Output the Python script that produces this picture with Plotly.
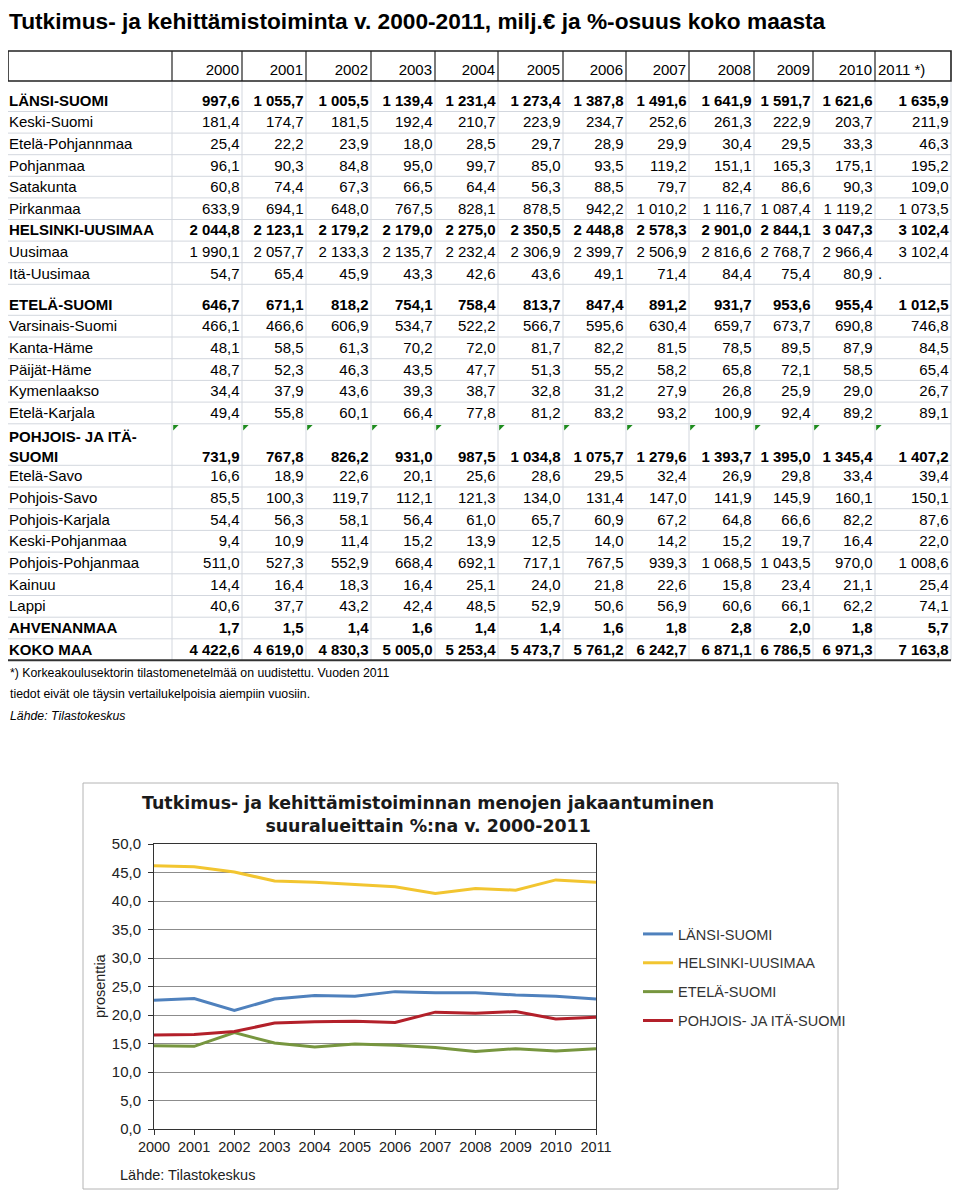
import plotly.graph_objects as go

# ---------------- DATA ----------------
years = [2000, 2001, 2002, 2003, 2004, 2005, 2006, 2007, 2008, 2009, 2010, 2011]
header_labels = ["2000", "2001", "2002", "2003", "2004", "2005", "2006",
                 "2007", "2008", "2009", "2010", "2011 *)"]

region_names = [
    "LÄNSI-SUOMI", "Keski-Suomi", "Etelä-Pohjannmaa", "Pohjanmaa", "Satakunta",
    "Pirkanmaa", "HELSINKI-UUSIMAA", "Uusimaa", "Itä-Uusimaa", "ETELÄ-SUOMI",
    "Varsinais-Suomi", "Kanta-Häme", "Päijät-Häme", "Kymenlaakso", "Etelä-Karjala",
    "POHJOIS- JA ITÄ-<br>SUOMI", "Etelä-Savo", "Pohjois-Savo", "Pohjois-Karjala",
    "Keski-Pohjanmaa", "Pohjois-Pohjanmaa", "Kainuu", "Lappi", "AHVENANMAA", "KOKO MAA",
]
bold_regions = ["LÄNSI-SUOMI", "HELSINKI-UUSIMAA", "ETELÄ-SUOMI",
                "POHJOIS- JA ITÄ-<br>SUOMI", "AHVENANMAA", "KOKO MAA"]

lansi_suomi = [997.6, 1055.7, 1005.5, 1139.4, 1231.4, 1273.4, 1387.8, 1491.6, 1641.9, 1591.7, 1621.6, 1635.9]
keski_suomi = [181.4, 174.7, 181.5, 192.4, 210.7, 223.9, 234.7, 252.6, 261.3, 222.9, 203.7, 211.9]
etela_pohjanmaa = [25.4, 22.2, 23.9, 18.0, 28.5, 29.7, 28.9, 29.9, 30.4, 29.5, 33.3, 46.3]
pohjanmaa = [96.1, 90.3, 84.8, 95.0, 99.7, 85.0, 93.5, 119.2, 151.1, 165.3, 175.1, 195.2]
satakunta = [60.8, 74.4, 67.3, 66.5, 64.4, 56.3, 88.5, 79.7, 82.4, 86.6, 90.3, 109.0]
pirkanmaa = [633.9, 694.1, 648.0, 767.5, 828.1, 878.5, 942.2, 1010.2, 1116.7, 1087.4, 1119.2, 1073.5]
helsinki_uusimaa = [2044.8, 2123.1, 2179.2, 2179.0, 2275.0, 2350.5, 2448.8, 2578.3, 2901.0, 2844.1, 3047.3, 3102.4]
uusimaa = [1990.1, 2057.7, 2133.3, 2135.7, 2232.4, 2306.9, 2399.7, 2506.9, 2816.6, 2768.7, 2966.4, 3102.4]
ita_uusimaa = [54.7, 65.4, 45.9, 43.3, 42.6, 43.6, 49.1, 71.4, 84.4, 75.4, 80.9, None]
etela_suomi = [646.7, 671.1, 818.2, 754.1, 758.4, 813.7, 847.4, 891.2, 931.7, 953.6, 955.4, 1012.5]
varsinais_suomi = [466.1, 466.6, 606.9, 534.7, 522.2, 566.7, 595.6, 630.4, 659.7, 673.7, 690.8, 746.8]
kanta_hame = [48.1, 58.5, 61.3, 70.2, 72.0, 81.7, 82.2, 81.5, 78.5, 89.5, 87.9, 84.5]
paijat_hame = [48.7, 52.3, 46.3, 43.5, 47.7, 51.3, 55.2, 58.2, 65.8, 72.1, 58.5, 65.4]
kymenlaakso = [34.4, 37.9, 43.6, 39.3, 38.7, 32.8, 31.2, 27.9, 26.8, 25.9, 29.0, 26.7]
etela_karjala = [49.4, 55.8, 60.1, 66.4, 77.8, 81.2, 83.2, 93.2, 100.9, 92.4, 89.2, 89.1]
pohjois_ja_ita_suomi = [731.9, 767.8, 826.2, 931.0, 987.5, 1034.8, 1075.7, 1279.6, 1393.7, 1395.0, 1345.4, 1407.2]
etela_savo = [16.6, 18.9, 22.6, 20.1, 25.6, 28.6, 29.5, 32.4, 26.9, 29.8, 33.4, 39.4]
pohjois_savo = [85.5, 100.3, 119.7, 112.1, 121.3, 134.0, 131.4, 147.0, 141.9, 145.9, 160.1, 150.1]
pohjois_karjala = [54.4, 56.3, 58.1, 56.4, 61.0, 65.7, 60.9, 67.2, 64.8, 66.6, 82.2, 87.6]
keski_pohjanmaa = [9.4, 10.9, 11.4, 15.2, 13.9, 12.5, 14.0, 14.2, 15.2, 19.7, 16.4, 22.0]
pohjois_pohjanmaa = [511.0, 527.3, 552.9, 668.4, 692.1, 717.1, 767.5, 939.3, 1068.5, 1043.5, 970.0, 1008.6]
kainuu = [14.4, 16.4, 18.3, 16.4, 25.1, 24.0, 21.8, 22.6, 15.8, 23.4, 21.1, 25.4]
lappi = [40.6, 37.7, 43.2, 42.4, 48.5, 52.9, 50.6, 56.9, 60.6, 66.1, 62.2, 74.1]
ahvenanmaa = [1.7, 1.5, 1.4, 1.6, 1.4, 1.4, 1.6, 1.8, 2.8, 2.0, 1.8, 5.7]
koko_maa = [4422.6, 4619.0, 4830.3, 5005.0, 5253.4, 5473.7, 5761.2, 6242.7, 6871.1, 6786.5, 6971.3, 7163.8]

table_rows = [lansi_suomi, keski_suomi, etela_pohjanmaa, pohjanmaa, satakunta, pirkanmaa,
              helsinki_uusimaa, uusimaa, ita_uusimaa, etela_suomi, varsinais_suomi, kanta_hame,
              paijat_hame, kymenlaakso, etela_karjala, pohjois_ja_ita_suomi, etela_savo,
              pohjois_savo, pohjois_karjala, keski_pohjanmaa, pohjois_pohjanmaa, kainuu, lappi,
              ahvenanmaa, koko_maa]

# chart: % share of whole country
chart_series = ["LÄNSI-SUOMI", "HELSINKI-UUSIMAA", "ETELÄ-SUOMI", "POHJOIS- JA ITÄ-SUOMI"]
share_lansi = [22.6, 22.9, 20.8, 22.8, 23.4, 23.3, 24.1, 23.9, 23.9, 23.5, 23.3, 22.8]
share_helsinki = [46.2, 46.0, 45.1, 43.5, 43.3, 42.9, 42.5, 41.3, 42.2, 41.9, 43.7, 43.3]
share_etela = [14.6, 14.5, 16.9, 15.1, 14.4, 14.9, 14.7, 14.3, 13.6, 14.1, 13.7, 14.1]
share_pohjois = [16.5, 16.6, 17.1, 18.6, 18.8, 18.9, 18.7, 20.5, 20.3, 20.6, 19.3, 19.6]
chart_values = [share_lansi, share_helsinki, share_etela, share_pohjois]

# ---------------- STYLE / LAYOUT ----------------
W, H = 960, 1193
OX, OY = 8, 8          # page (body) margin offset: layout works in page pixels
FONT = "Liberation Sans, Arial, sans-serif"
TFS = 15  # table font size
line_colors = ["#4f81bd", "#f2c530", "#77963f", "#b3202a"]

col_edges = [7, 172, 242, 306, 371, 435, 498, 563, 626, 689, 754, 813, 875, 951]
header_top, header_bot = 51, 81
row_heights = ([30.5] + [21.6] * 8 + [31] + [21.7] * 5 + [41.5] + [21.7] * 7 + [21.6, 21.5])
row_edges = [header_bot]
for h in row_heights:
    row_edges.append(row_edges[-1] + h)


def fmt(v):
    if v is None:
        return "."
    s = f"{v:,.1f}"
    return s.replace(",", " ").replace(".", ",")


def px(x):
    return (x - OX) / W


def py(y):
    return 1 - (y - OY) / H


fig = go.Figure()

# ---- table text ----
pj = region_names.index("POHJOIS- JA ITÄ-<br>SUOMI")
text_y = [row_edges[i + 1] - (7.5 if i == pj else 9.5) for i in range(len(region_names))]
label_y = [ty - (0.65 * TFS if "<br>" in name else 0) for ty, name in zip(text_y, region_names)]
label_text = [f"<b>{n}</b>" if n in bold_regions else n for n in region_names]

fig.add_trace(go.Scatter(
    x=[col_edges[0] + 2] * len(region_names), y=label_y, text=label_text,
    mode="text", textposition="middle right",
    textfont=dict(family=FONT, size=TFS, color="#000"),
    xaxis="x2", yaxis="y2", showlegend=False, hoverinfo="skip"))

for j in range(len(years)):
    xs, tps, txt = [], [], []
    for i, row in enumerate(table_rows):
        v = row[j]
        s = fmt(v)
        if region_names[i] in bold_regions:
            s = f"<b>{s}</b>"
        txt.append(s)
        if v is None:
            xs.append(col_edges[j + 1] + 3)
            tps.append("middle right")
        else:
            xs.append(col_edges[j + 2] - 2.5)
            tps.append("middle left")
    fig.add_trace(go.Scatter(
        x=xs, y=text_y, text=txt, mode="text", textposition=tps,
        textfont=dict(family=FONT, size=TFS, color="#000"),
        xaxis="x2", yaxis="y2", showlegend=False, hoverinfo="skip"))

# header
hx = [col_edges[j + 2] - 3 if j < len(years) - 1 else col_edges[j + 1] + 3 for j in range(len(years))]
htp = ["middle left" if j < len(years) - 1 else "middle right" for j in range(len(years))]
fig.add_trace(go.Scatter(
    x=hx, y=[header_bot - 9.5] * len(years), text=header_labels,
    mode="text", textposition=htp,
    textfont=dict(family=FONT, size=TFS, color="#000"),
    xaxis="x2", yaxis="y2", showlegend=False, hoverinfo="skip"))

# green error-indicator triangles in the two-line row
fig.add_trace(go.Scatter(
    x=[col_edges[j + 1] + 3 for j in range(len(years))],
    y=[row_edges[pj] + 3] * len(years),
    mode="markers", marker=dict(symbol="triangle-nw", size=6, color="#1e8c1e", line=dict(width=0)),
    xaxis="x2", yaxis="y2", showlegend=False, hoverinfo="skip"))

shapes = []
grid_c = "#d3d7de"
for x in col_edges:
    shapes.append(dict(type="line", xref="x2", yref="y2", x0=x, x1=x, y0=header_bot, y1=row_edges[-1],
                       line=dict(color=grid_c, width=1), layer="below"))
for y in row_edges[1:-1]:
    shapes.append(dict(type="line", xref="x2", yref="y2", x0=col_edges[0], x1=col_edges[-1], y0=y, y1=y,
                       line=dict(color=grid_c, width=1), layer="below"))
shapes.append(dict(type="rect", xref="x2", yref="y2", x0=col_edges[0] + 1, x1=col_edges[-1],
                   y0=header_top, y1=header_bot, line=dict(color="#222", width=1.6)))
for x in col_edges[1:-1]:
    shapes.append(dict(type="line", xref="x2", yref="y2", x0=x, x1=x, y0=header_top, y1=header_bot,
                       line=dict(color="#222", width=1.2)))
shapes.append(dict(type="line", xref="x2", yref="y2", x0=col_edges[0], x1=col_edges[-1],
                   y0=row_edges[-1], y1=row_edges[-1], line=dict(color="#333", width=2)))
# chart box
shapes.append(dict(type="rect", xref="x2", yref="y2", x0=83, x1=838, y0=783, y1=1189,
                   line=dict(color="#b4b4b4", width=1), layer="below"))

# ---- line chart ----
for name, vals, c in zip(chart_series, chart_values, line_colors):
    fig.add_trace(go.Scatter(
        x=years, y=vals, name=name, mode="lines",
        line=dict(color=c, width=3), legendgroup=name))

annotations = [
    dict(xref="paper", yref="paper", x=px(8), y=py(21), xanchor="left", yanchor="middle",
         text="<b>Tutkimus- ja kehittämistoiminta v. 2000-2011, milj.€ ja %-osuus koko maasta</b>",
         showarrow=False, borderpad=0, font=dict(family=FONT, size=22.7, color="#000")),
    dict(xref="paper", yref="paper", x=px(8), y=py(673), xanchor="left", yanchor="middle",
         text="*) Korkeakoulusektorin tilastomenetelmää on uudistettu. Vuoden 2011",
         showarrow=False, font=dict(family=FONT, size=12.3, color="#000")),
    dict(xref="paper", yref="paper", x=px(8), y=py(694), xanchor="left", yanchor="middle",
         text="tiedot eivät ole täysin vertailukelpoisia aiempiin vuosiin.",
         showarrow=False, font=dict(family=FONT, size=12.3, color="#000")),
    dict(xref="paper", yref="paper", x=px(8), y=py(716), xanchor="left", yanchor="middle",
         text="<i>Lähde: Tilastokeskus</i>",
         showarrow=False, font=dict(family=FONT, size=12.3, color="#000")),
    dict(xref="paper", yref="paper", x=px(428), y=py(814), xanchor="center", yanchor="middle",
         text="<b>Tutkimus- ja kehittämistoiminnan menojen jakaantuminen</b><br>"
              "<b>suuralueittain %:na v. 2000-2011</b>",
         showarrow=False, font=dict(family="DejaVu Sans, Verdana, sans-serif", size=17.4, color="#1a1a1a")),
    dict(xref="paper", yref="paper", x=px(100), y=py(986), xanchor="center", yanchor="middle",
         text="prosenttia", textangle=-90,
         showarrow=False, font=dict(family=FONT, size=14.5, color="#222")),
    dict(xref="paper", yref="paper", x=px(118), y=py(1175), xanchor="left", yanchor="middle",
         text="Lähde: Tilastokeskus",
         showarrow=False, font=dict(family=FONT, size=14.5, color="#222")),
]

fig.update_layout(
    width=W, height=H, margin=dict(l=0, r=0, t=0, b=0, pad=0, autoexpand=False),
    paper_bgcolor="white", plot_bgcolor="rgba(0,0,0,0)",
    separators=", ",
    showlegend=True,
    legend=dict(x=px(638), y=py(918), xanchor="left", yanchor="top",
                font=dict(family=FONT, size=14.5, color="#333"),
                bgcolor="rgba(0,0,0,0)", tracegroupgap=7, traceorder="grouped"),
    xaxis=dict(domain=[px(154), px(596)], range=[2000, 2011], tickvals=years,
               ticks="outside", ticklen=5, tickcolor="#333", showgrid=False,
               showline=True, linecolor="#333", linewidth=1, mirror=True,
               tickfont=dict(family=FONT, size=14.5, color="#222"), zeroline=False,
               anchor="y", fixedrange=True, automargin=False),
    yaxis=dict(domain=[py(1129), py(844)], range=[0, 50], dtick=5, tickformat=".1f",
               ticks="outside", ticklen=5, tickcolor="#333", showgrid=True,
               gridcolor="#8c8c8c", gridwidth=1, ticklabelstandoff=4,
               showline=True, linecolor="#333", linewidth=1, mirror=True,
               tickfont=dict(family=FONT, size=15, color="#222"), zeroline=False,
               anchor="x", fixedrange=True, automargin=False),
    xaxis2=dict(domain=[0, 1], range=[OX, W + OX], visible=False, anchor="y2",
                fixedrange=True, automargin=False),
    yaxis2=dict(domain=[0, 1], range=[H + OY, OY], visible=False, anchor="x2",
                fixedrange=True, automargin=False),
    shapes=shapes,
    annotations=annotations,
)

fig.write_html("out.html")
